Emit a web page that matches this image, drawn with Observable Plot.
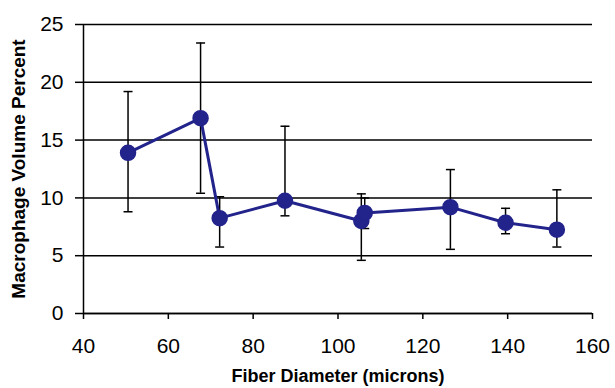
<!DOCTYPE html>
<html>
<head>
<meta charset="utf-8">
<script src="https://cdn.jsdelivr.net/npm/d3@7"></script>
<script src="https://cdn.jsdelivr.net/npm/@observablehq/plot@0.6"></script>
<style>
  html, body { margin: 0; padding: 0; background: #fff; }
  #chart svg { display: block; }
</style>
</head>
<body>
<div id="chart"></div>
<script>
// Data
const diameter = [50.5, 67.6, 72.1, 87.5, 105.5, 106.3, 126.5, 139.5, 151.6];
const percent  = [13.9, 16.9, 8.25, 9.75, 8.0, 8.7, 9.2, 7.85, 7.25];
const errLow   = [8.8, 10.4, 5.75, 8.45, 4.6, 7.35, 5.55, 6.9, 5.75];
const errHigh  = [19.2, 23.4, 10.1, 16.2, 10.35, 10.0, 12.45, 9.1, 10.7];
const xTicks = [40, 60, 80, 100, 120, 140, 160];
const yTicks = [0, 5, 10, 15, 20, 25];
const xTitle = "Fiber Diameter (microns)";
const yTitle = "Macrophage Volume Percent";

const data = diameter.map((d, i) => ({x: d, y: percent[i], lo: errLow[i], hi: errHigh[i]}));

const cap = {draw(ctx) { ctx.moveTo(-4.5, 0); ctx.lineTo(4.5, 0); }};
const navy = "#23238c";

const chart = Plot.plot({
  width: 615,
  height: 388,
  marginLeft: 83,
  marginRight: 23,
  marginTop: 24,
  marginBottom: 75,
  style: {fontFamily: "'Liberation Sans', Arial, sans-serif", fontSize: "21px", color: "#000", background: "#fff"},
  x: {domain: [40, 160]},
  y: {domain: [0, 25]},
  marks: [
    Plot.gridY(yTicks, {stroke: "#000", strokeOpacity: 1, strokeWidth: 1.5}),
    Plot.axisY(yTicks, {tickSize: 8, tickPadding: 12, strokeWidth: 1.5, label: null, fontSize: 21}),
    Plot.axisX(xTicks, {tickSize: 6, tickPadding: 19, strokeWidth: 1.5, label: null, fontSize: 21}),
    Plot.ruleX([40], {stroke: "#000", strokeWidth: 1.5}),
    Plot.ruleY([0], {stroke: "#000", strokeWidth: 1.5}),
    Plot.ruleX(data, {x: "x", y1: "lo", y2: "hi", stroke: "#000", strokeWidth: 1.5}),
    Plot.dot(data, {x: "x", y: "lo", symbol: cap, stroke: "#000", strokeWidth: 1.5}),
    Plot.dot(data, {x: "x", y: "hi", symbol: cap, stroke: "#000", strokeWidth: 1.5}),
    Plot.line(data, {x: "x", y: "y", stroke: navy, strokeWidth: 3}),
    Plot.dot(data, {x: "x", y: "y", r: 7.5, fill: navy, stroke: navy}),
    Plot.text([xTitle], {frameAnchor: "bottom", dy: 68, fontSize: 18, fontWeight: "bold", fill: "#000"}),
    Plot.text([yTitle], {frameAnchor: "left", textAnchor: "middle", dx: -65, rotate: -90, fontSize: 19, fontWeight: "bold", fill: "#000"})
  ]
});
document.getElementById("chart").appendChild(chart);
</script>
</body>
</html>
